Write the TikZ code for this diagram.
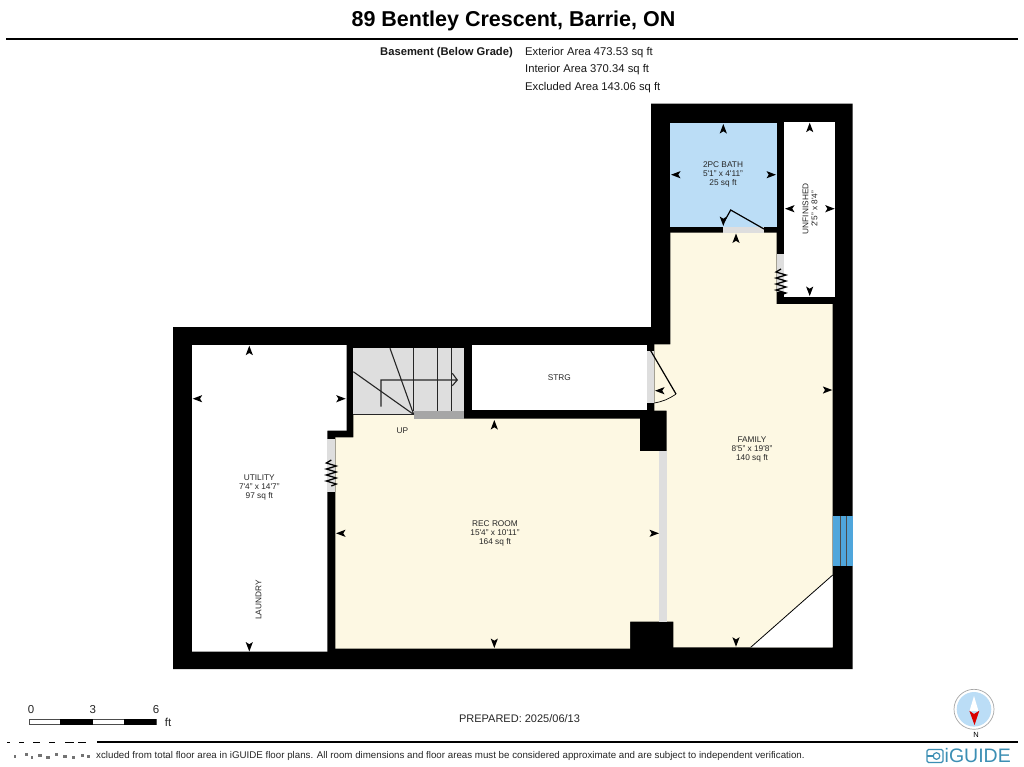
\documentclass[tikz,border=0pt]{standalone}
\usepackage{fontspec}
\setmainfont{Liberation Sans}
\definecolor{cream}{HTML}{FDF8E3}
\definecolor{bathblue}{HTML}{BBDDF6}
\definecolor{wallgray}{HTML}{DEDEDE}
\definecolor{stepgray}{HTML}{A6A6A6}
\definecolor{winblue}{HTML}{4FA6DC}
\definecolor{brand}{HTML}{3C8FB4}
\newcommand\qt{\textquotesingle}
\newcommand\arrU[2]{\fill (#1,#2) -- ++(-3.6,9.5) -- ++(3.6,-2.2) -- ++(3.6,2.2) -- cycle;}
\newcommand\arrD[2]{\fill (#1,#2) -- ++(-3.6,-9.5) -- ++(3.6,2.2) -- ++(3.6,-2.2) -- cycle;}
\newcommand\arrL[2]{\fill (#1,#2) -- ++(9.5,-3.6) -- ++(-2.2,3.6) -- ++(2.2,3.6) -- cycle;}
\newcommand\arrR[2]{\fill (#1,#2) -- ++(-9.5,-3.6) -- ++(2.2,3.6) -- ++(-2.2,3.6) -- cycle;}
\newcommand\szg[2]{\draw[black,line width=1.25pt] (#1,#2) -- ++(-5,3) -- ++(10,3) -- ++(-10,3) -- ++(10,3) -- ++(-10,3) -- ++(10,3) -- ++(-10,3) -- ++(10,3) -- ++(-5,2);}
\tikzset{
  room/.style={font=\fontsize{8.3}{9}\selectfont,align=center,inner sep=0pt,text=black!85},
  head/.style={font=\fontsize{11.25}{12}\selectfont,anchor=west,inner sep=0pt,text=black!90},
  scalelab/.style={font=\fontsize{11.5}{12}\selectfont,inner sep=0pt,text=black!85},
  stair/.style={line width=1.1pt,black!85},
  doorline/.style={line width=1.2pt,black},
}
\begin{document}
\begin{tikzpicture}[x=1pt,y=-1pt]
\useasboundingbox[fill=white] (0,0) rectangle (1024,766);
% title
\node[font=\fontsize{21.5}{23}\bfseries\selectfont,inner sep=0pt] (title) at (513.5,20.5) {89 Bentley Crescent, Barrie, ON};
\fill[black] (6,38) rectangle (1018,40);
\node[head,font=\fontsize{11.2}{12}\bfseries\selectfont,anchor=east] (level) at (513,52.5) {Basement (Below Grade)};
\node[head] (ext) at (525,52.5) {Exterior Area 473.53 sq ft};
\node[head] (int) at (525,70) {Interior Area 370.34 sq ft};
\node[head] (exc) at (525,87.7) {Excluded Area 143.06 sq ft};
% outer walls
\fill[black] (173,327) -- (651,327) -- (651,103.5) -- (852.5,103.5) -- (852.5,669) -- (173,669) -- cycle;
% utility
\fill[white] (192,345) -- (346.7,345) -- (346.7,430.7) -- (327.3,430.7) -- (327.3,651.7) -- (192,651.7) -- cycle;
% stairs
\fill[wallgray] (353.3,348.3) rectangle (464.3,414.5);
% strg
\fill[white] (472.3,344.5) rectangle (646.7,410);
% unfinished
\fill[white] (784.3,121.7) rectangle (835.3,296.7);
% bath
\fill[bathblue] (670.3,122.7) rectangle (776.7,226.7);
% rec room
\fill[cream] (353.3,414.5) -- (414.3,414.5) -- (414.3,418.5) -- (640,418.5) -- (640,449.3) -- (659,449.3) -- (659,621.7) -- (630,621.7) -- (630,648.5) -- (335.3,648.5) -- (335.3,437.3) -- (353.3,437.3) -- cycle;
% family
\fill[cream] (670.3,232.5) -- (776.7,232.5) -- (776.7,304) -- (832.7,304) -- (832.7,647.3) -- (673.3,647.3) -- (673.3,621.7) -- (666.7,621.7) -- (666.7,410.5) -- (654.3,410.5) -- (654.3,344.3) -- (670.3,344.3) -- cycle;
\fill[black] (640,410.5) rectangle (666.3,451);
\fill[black] (646.7,344.3) rectangle (654.3,350.7);
% family corner
\fill[white] (750.7,647.3) -- (832.7,575) -- (832.7,647.3) -- cycle;
\draw[line width=0.8pt] (750.7,647.3) -- (832.7,575);
% gray wall openings
\fill[wallgray] (659,451) rectangle (666.7,621.7);
\fill[wallgray] (646.7,350.7) rectangle (654.3,403.3);
\fill[wallgray] (723,226.7) rectangle (764,232.5);
\fill[wallgray] (776.7,254) rectangle (784.3,291.7);
\fill[wallgray] (327.3,439) rectangle (335.3,491.7);
\fill[stepgray] (414.3,410.7) rectangle (464.3,418.5);
% window
\fill[winblue] (832.7,516) rectangle (852.7,565.7);
\draw[line width=0.7pt,black!70] (840,516) -- (840,565.7) (846.7,516) -- (846.7,565.7);
% stairs lines
\draw[stair] (413.7,348.3) -- (413.7,411) (437.7,348.3) -- (437.7,411) (451.3,348.3) -- (451.3,411);
\draw[stair] (353.3,414.5) -- (414.3,414.5);
\draw[stair] (390,348.3) -- (413.7,414.5) (353.3,371.7) -- (413.7,414.5);
\draw[stair] (381,406.7) -- (381,380) -- (457.3,380) (452.3,373.3) -- (457.3,380) -- (452.3,385.7);
% doors
\draw[doorline] (764,229) -- (730.7,210) -- (724,222);
\draw[doorline] (650.7,350.7) -- (676,394);
\draw[line width=0.7pt] (676,394) to[bend left=12] (654.3,403);
% springs
\szg{331.3}{460}
\szg{781}{269}
% arrows
\arrU{723.3}{124}\arrD{723.3}{226}\arrL{671}{174.7}\arrR{776}{174.7}
\arrU{736}{233.5}
\arrU{809.7}{122.7}\arrD{809.7}{296}\arrL{785}{208.7}\arrR{834.7}{208.7}
\arrU{249.3}{345.7}\arrD{249.3}{651.5}\arrL{192.7}{398.7}\arrR{345.7}{398.7}
\arrL{336}{533.3}\arrU{494.3}{420}\arrR{659}{533.3}\arrD{494.3}{648}
\arrR{832.3}{390}\arrL{655}{390.7}\arrD{736}{646.7}
% room labels
\node[room] (bath) at (723,174.5) {2PC BATH\\5\qt1" x 4\qt11"\\25 sq ft};
\node[room,rotate=90] (unf) at (810,208.7) {UNFINISHED\\2\qt5" x 8\qt4"};
\node[room] (strg) at (559.3,377.7) {STRG};
\node[room] (up) at (402.3,431) {UP};
\node[room] (family) at (752,449.5) {FAMILY\\8\qt5" x 19\qt8"\\140 sq ft};
\node[room] (rec) at (495,533.3) {REC ROOM\\15\qt4" x 10\qt11"\\164 sq ft};
\node[room] (util) at (259.3,487) {UTILITY\\7\qt4" x 14\qt7"\\97 sq ft};
\node[room,rotate=90] (laundry) at (258.5,600) {LAUNDRY};
% scale
\draw[line width=0.6pt,black!70,fill=white] (29.3,719.2) rectangle (156,724.7);
\fill[black] (60.3,719) rectangle (92.7,725);
\fill[black] (124,719) rectangle (156,725);
\node[scalelab] (s0) at (31,710) {0};
\node[scalelab] (s3) at (92.7,710) {3};
\node[scalelab] (s6) at (156,710) {6};
\node[scalelab] (sft) at (168,722) {ft};
\node[font=\fontsize{11}{12}\selectfont,inner sep=0pt,text=black!85] (prep) at (519.5,719) {PREPARED: 2025/06/13};
% compass
\draw[line width=0.7pt,black!35,fill=white] (974,709.3) circle (20);
\fill[bathblue] (974,709.3) circle (17.3);
\fill[white] (974,696) -- (969.5,711) -- (978.5,711) -- cycle;
\fill[red!85!black] (969.3,710.7) -- (974,714) -- (979.3,710.7) -- (974.5,725) -- cycle;
\node[font=\fontsize{7.5}{9}\selectfont,inner sep=0pt] (north) at (976,735) {N};
% footer
\fill[black] (97,741) rectangle (1018,743);
\foreach \a/\b in {7/10,19/24,33/40,49/55,65/74,78/86}{\fill[black] (\a,741.5) rectangle (\b,743);}
\foreach \a/\b/\c in {14/16/755,25/28/753,31/33/756,38/42/754,46/50/756,55/58/753,63/67/755,72/75/756,81/84/754,87/90/755}{\fill[black!55] (\a,\c) rectangle (\b,\c+2.5);}
\node[font=\fontsize{9.74}{11}\selectfont,anchor=west,inner sep=0pt,text=black!85] (foot) at (96,755.5) {xcluded from total floor area in iGUIDE floor plans. All room dimensions and floor areas must be considered approximate and are subject to independent verification.};
% logo
\draw[brand,line width=1.3pt,rounded corners=1.5pt] (927,749.5) -- (943,749.5) -- (943,762.5) -- (927,762.5) -- cycle;
\draw[brand,line width=1.2pt] (936.5,756) circle (3.3);
\draw[brand,line width=1.2pt] (927,756) -- (933,756);
\node[font=\fontsize{19.5}{21}\selectfont,anchor=base west,inner sep=0pt,text=brand] (logo) at (944.5,762) {iGUIDE};
\end{tikzpicture}
\end{document}
